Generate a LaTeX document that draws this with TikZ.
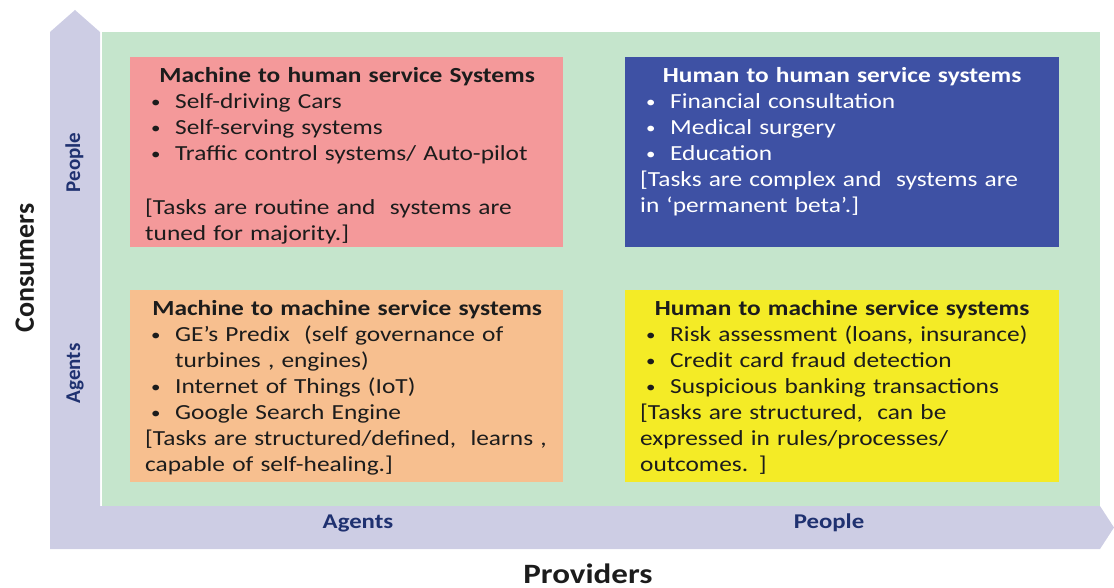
\documentclass[tikz,border=0pt]{standalone}
\usepackage{fontspec}
\setmainfont{Carlito}[FakeStretch=1.18]
\newfontfamily\plaincarlito{Carlito}
\usetikzlibrary{positioning,calc}

\definecolor{axisfill}{HTML}{CDCDE4}
\definecolor{gridgreen}{HTML}{C5E5CC}
\definecolor{mtohred}{HTML}{F4999A}
\definecolor{htohblue}{HTML}{3E51A4}
\definecolor{mtomorange}{HTML}{F7BF8F}
\definecolor{htomyellow}{HTML}{F4EB26}
\definecolor{axisink}{HTML}{1F3170}
\definecolor{bodyink}{HTML}{1C1C1C}

\newcommand{\quadhead}[1]{{\centering\bfseries #1\par}}
\newcommand{\quadbullet}{\raisebox{1pt}{\fontsize{16}{16}\selectfont\textbullet}}
\newcommand{\quaditem}[1]{\hangindent=30pt\hangafter=1\noindent\makebox[30pt][l]{\hspace{6pt}\quadbullet}#1\par}
\newcommand{\quadnote}[1]{\noindent #1\par}

\tikzset{
  quadtext/.style={anchor=north west,text width=404pt,inner xsep=15pt,inner ysep=10pt,
    font=\fontsize{21.5}{26}\selectfont,text=bodyink},
  axislab/.style={font=\fontsize{21}{24}\selectfont\bfseries,text=axisink},
  axistitle/.style={font=\fontsize{28}{32}\selectfont\bfseries,text=bodyink}
}

\begin{document}
\begin{tikzpicture}[x=1pt,y=-1pt]
    \useasboundingbox (0,0) rectangle (1114,588);
    % both axes as one bent arrow
    \fill[axisfill] (50,32) -- (75,10) -- (100,32) -- (100,506) -- (1100,506)
      -- (1114,527.5) -- (1100,549) -- (50,549) -- cycle;
    \fill[gridgreen] (102,32) rectangle (1100,506);
    % quadrants
    \fill[mtohred] (130,57) rectangle (563,247);
    \fill[htohblue] (625,57) rectangle (1059,247);
    \fill[mtomorange] (130,290) rectangle (563,482);
    \fill[htomyellow] (625,290) rectangle (1059,482);

    \node[quadtext] (mtoh) at (130,57) {%
      \quadhead{Machine to human service Systems}
      \quaditem{Self-driving Cars}
      \quaditem{Self-serving systems}
      \quaditem{Traffic control systems/ Auto-pilot}
      \vspace*{28pt}
      \quadnote{[Tasks are routine and \ systems are\newline tuned for majority.]}
    };
    \node[quadtext,text=white] (htoh) at (625,57) {%
      \quadhead{Human to human service systems}
      \quaditem{Financial consultation}
      \quaditem{Medical surgery}
      \quaditem{Education}
      \quadnote{[Tasks are complex and \ systems are\newline in `permanent beta'.]}
    };
    \node[quadtext] (mtom) at (130,290) {%
      \quadhead{Machine to machine service systems}
      \quaditem{GE's Predix \ (self governance of\newline turbines , engines)}
      \quaditem{Internet of Things (IoT)}
      \quaditem{Google Search Engine}
      \quadnote{[Tasks are structured/defined, \ learns ,\newline capable of self-healing.]}
    };
    \node[quadtext] (htom) at (625,290) {%
      \quadhead{Human to machine service systems}
      \quaditem{Risk assessment (loans, insurance)}
      \quaditem{Credit card fraud detection}
      \quaditem{Suspicious banking transactions}
      \quadnote{[Tasks are structured, \ can be\newline expressed in rules/processes/\newline outcomes. ]}
    };

    % axis labels
    \node[axislab,rotate=90,anchor=base] (ypeople) at (80,162.5) {\plaincarlito People};
    \node[axislab,rotate=90,anchor=base] (yagents) at (80,373.5) {\plaincarlito Agents};
    \node[axislab,anchor=base] (xagents) at (358,528) {Agents};
    \node[axislab,anchor=base] (xpeople) at (829,528) {People};
    \node[axistitle,rotate=90,anchor=base] (consumers) at (34,268) {\plaincarlito Consumers};
    \node[axistitle,anchor=base] (providers) at (588,583) {Providers};
\end{tikzpicture}
\end{document}
